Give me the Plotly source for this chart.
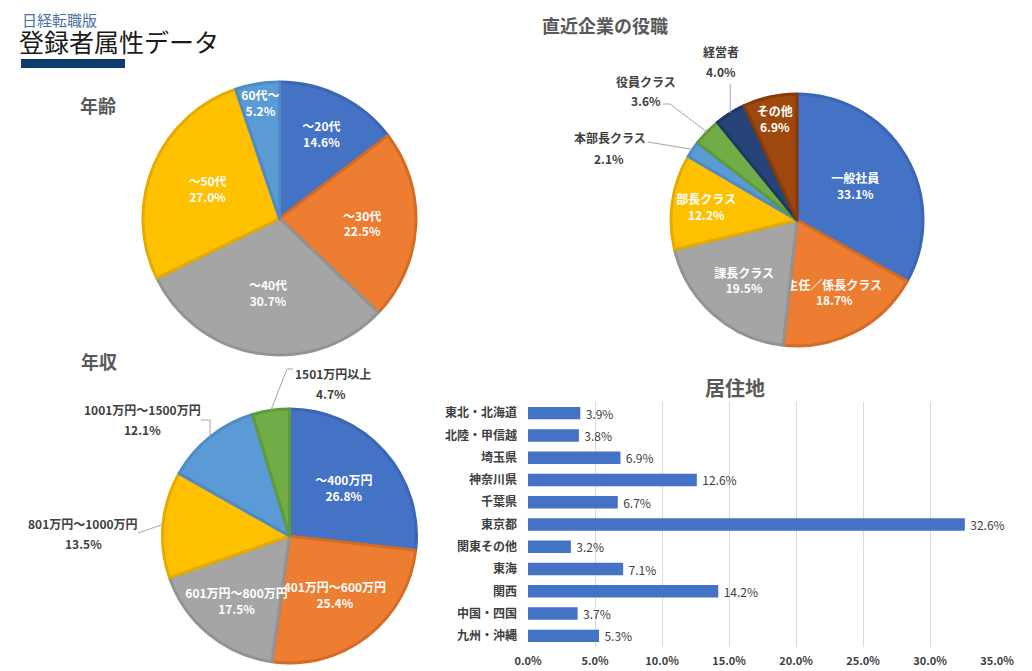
import math
import plotly.graph_objects as go

W, H = 1032, 671          # browser window
OX, OY = 8, 8             # page body margin in which the figure sits
FW, FH = W - OX, H - OY   # figure size so that it fills the window exactly

# ---------------- data ----------------
age_labels = ["～20代", "～30代", "～40代", "～50代", "60代～"]
age_values = [14.6, 22.5, 30.7, 27.0, 5.2]

pos_labels = ["一般社員", "主任／係長クラス", "課長クラス", "部長クラス",
              "本部長クラス", "役員クラス", "経営者", "その他"]
pos_values = [33.1, 18.7, 19.5, 12.2, 2.1, 3.6, 4.0, 6.9]

inc_labels = ["～400万円", "401万円～600万円", "601万円～800万円", "801万円～1000万円",
              "1001万円～1500万円", "1501万円以上"]
inc_values = [26.8, 25.4, 17.5, 13.5, 12.1, 4.7]

reg_labels = ["東北・北海道", "北陸・甲信越", "埼玉県", "神奈川県", "千葉県", "東京都",
              "関東その他", "東海", "関西", "中国・四国", "九州・沖縄"]
reg_values = [3.9, 3.8, 6.9, 12.6, 6.7, 32.6, 3.2, 7.1, 14.2, 3.7, 5.3]
x_tick_vals = [0, 5, 10, 15, 20, 25, 30, 35]

# ---------------- style ----------------
FONT = "Noto Sans CJK JP"
TXT = "#404040"
TITLE = "#595959"
fill = {"blue": "#4472C4", "orange": "#ED7D31", "gray": "#A5A5A5", "gold": "#FFC000",
        "lblue": "#5B9BD5", "green": "#70AD47", "navy": "#264478", "brown": "#9E480E"}
edge = {"blue": "#3B66B5", "orange": "#D46C26", "gray": "#939393", "gold": "#E5AC00",
        "lblue": "#4F8BC4", "green": "#5F9A3B", "navy": "#1D3963", "brown": "#853B0A"}

age_cols = ["blue", "orange", "gray", "gold", "lblue"]
pos_cols = ["blue", "orange", "gray", "gold", "lblue", "green", "navy", "brown"]
inc_cols = ["blue", "orange", "gray", "gold", "lblue", "green"]


def px2paper(x, y):
    return (x - OX) / FW, 1 - (y - OY) / FH


def dom(x0, x1, y0, y1):
    a, b = px2paper(x0, y1)
    c, d = px2paper(x1, y0)
    return dict(x=[a, c], y=[b, d])


pie1_box = (143, 416, 82, 355)
pie2_box = (671, 923, 94, 346)
pie3_box = (162, 417, 409, 663)


def make_pie(labels, values, cols, box, outside_idx):
    texts = []
    for i, (l, v) in enumerate(zip(labels, values)):
        texts.append("" if i in outside_idx else f"<b>{l}<br>{v:.1f}%</b>")
    return go.Pie(
        labels=labels, values=values, sort=False, direction="clockwise", rotation=0,
        domain=dom(*box),
        marker=dict(colors=[fill[c] for c in cols],
                    line=dict(color=[edge[c] for c in cols], width=3)),
        text=texts, textinfo="text", textposition="inside",
        insidetextorientation="horizontal",
        insidetextfont=dict(family=FONT, size=12, color="white"),
        showlegend=False, hoverinfo="label+value",
    )


def edge_point(values, idx, box):
    cx = (box[0] + box[1]) / 2
    cy = (box[2] + box[3]) / 2
    r = min(box[1] - box[0], box[3] - box[2]) / 2
    total = sum(values)
    mid = (sum(values[:idx]) + values[idx] / 2) / total * 2 * math.pi
    return cx + r * math.sin(mid), cy - r * math.cos(mid)


fig = go.Figure()
fig.add_trace(make_pie(age_labels, age_values, age_cols, pie1_box, []))
fig.add_trace(make_pie(pos_labels, pos_values, pos_cols, pie2_box, [4, 5, 6]))
fig.add_trace(make_pie(inc_labels, inc_values, inc_cols, pie3_box, [3, 4, 5]))

# bar chart
fig.add_trace(go.Bar(
    x=reg_values, y=reg_labels, orientation="h",
    marker=dict(color="#4472C4", line=dict(width=0)),
    width=0.56,
    text=[f"\u2009{v:.1f}%" for v in reg_values], textposition="outside",
    textfont=dict(family=FONT, size=12, color=TXT),
    cliponaxis=False, showlegend=False, hoverinfo="x+y",
))

annotations = []
shapes = []


def add_text(text, x, y, size, color=TXT, bold=True, family=FONT, xanchor="center"):
    xp, yp = px2paper(x, y)
    annotations.append(dict(
        text=f"<b>{text}</b>" if bold else text, x=xp, y=yp, xref="paper", yref="paper",
        xanchor=xanchor, yanchor="middle", showarrow=False,
        font=dict(family=family, size=size, color=color)))


def add_leader(points):
    path = "M " + " L ".join(f"{px2paper(x, y)[0]:.5f},{px2paper(x, y)[1]:.5f}" for x, y in points)
    shapes.append(dict(type="path", path=path, xref="paper", yref="paper",
                       line=dict(color="#A6A6A6", width=1)))


# headings
add_text("日経転職版", 20, 19, 15, color="#4A6FA3", bold=False, xanchor="left")
add_text("登録者属性データ", 17, 41, 25, color="#1A1A1A", bold=False, xanchor="left")
x0, y0 = px2paper(21, 59)
x1, y1 = px2paper(125, 68)
shapes.append(dict(type="rect", xref="paper", yref="paper", x0=x0, y0=y0, x1=x1, y1=y1,
                   fillcolor="#0E3C6C", line=dict(width=0)))

add_text("年齢", 98, 105, 18, color=TITLE)
add_text("年収", 99, 361, 18, color=TITLE)
add_text("直近企業の役職", 605, 25, 18, color=TITLE)
add_text("居住地", 735, 387, 20, color=TITLE)

# outside pie labels (役職)
ex, ey = edge_point(pos_values, 6, pie2_box)
add_text(pos_labels[6], 721, 52, 12)
add_text(f"{pos_values[6]:.1f}%", 721, 72, 12)
add_leader([(ex, 84), (ex, ey)])

ex, ey = edge_point(pos_values, 5, pie2_box)
add_text(pos_labels[5], 646, 81, 12)
add_text(f"{pos_values[5]:.1f}%", 646, 101, 12)
add_leader([(663, 104), (670, 104), (ex, ey)])

ex, ey = edge_point(pos_values, 4, pie2_box)
add_text(pos_labels[4], 610, 138, 12)
add_text(f"{pos_values[4]:.1f}%", 609, 159, 12)
add_leader([(648, 142), (ex, ey)])

# outside pie labels (年収)
ex, ey = edge_point(inc_values, 5, pie3_box)
add_text(inc_labels[5], 333, 373, 12)
add_text(f"{inc_values[5]:.1f}%", 331, 393, 12)
add_leader([(293, 369), (287, 369), (ex, ey)])

ex, ey = edge_point(inc_values, 4, pie3_box)
add_text(inc_labels[4], 142, 409, 12)
add_text(f"{inc_values[4]:.1f}%", 142, 429, 12)
add_leader([(201, 420), (ex, 420), (ex, ey)])

ex, ey = edge_point(inc_values, 3, pie3_box)
add_text(inc_labels[3], 83, 523, 12)
add_text(f"{inc_values[3]:.1f}%", 83, 543, 12)
add_leader([(138, 533), (ex, ey)])

bar_dom = dom(528, 997, 402, 647)
fig.update_layout(
    width=FW, height=FH, margin=dict(l=0, r=0, t=0, b=0, pad=0, autoexpand=False),
    paper_bgcolor="white", plot_bgcolor="white",
    font=dict(family=FONT, color=TXT),
    annotations=annotations, shapes=shapes,
    uniformtext=dict(minsize=12, mode="show"),
    xaxis=dict(domain=bar_dom["x"], range=[0, 35], tickvals=x_tick_vals,
               ticktext=[f"{v:.1f}%" for v in x_tick_vals],
               showgrid=True, gridcolor="#D9D9D9", gridwidth=1, zeroline=False,
               showline=False, ticks="", ticklabelstandoff=6, automargin=False,
               tickfont=dict(family=FONT, size=11, color=TXT, weight="bold"),
               fixedrange=True),
    yaxis=dict(domain=bar_dom["y"], autorange="reversed", type="category",
               showgrid=False, zeroline=False, showline=False, ticks="",
               ticklabelstandoff=10, automargin=False,
               tickfont=dict(family=FONT, size=12, color=TXT, weight="bold"),
               fixedrange=True),
    bargap=0.44,
)

fig.write_html("out.html")
